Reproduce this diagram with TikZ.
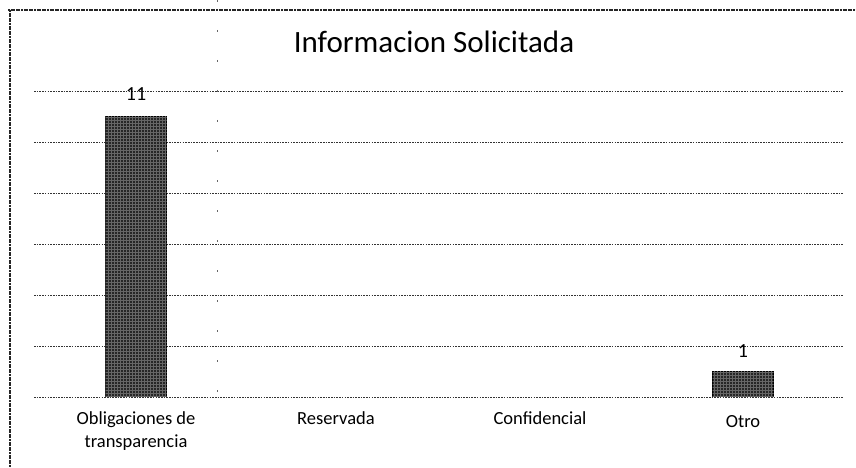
\documentclass[tikz,border=0pt]{standalone}
\usepackage{fontspec}
\setmainfont{Carlito}
\usetikzlibrary{patterns}
\tikzset{
  grid line/.style={draw=black!80, line width=0.9pt, dash pattern=on 1.6pt off 1.1pt},
  frame line/.style={draw=black!85, line width=1.1pt, dash pattern=on 2pt off 0.6pt},
  bar/.style={draw=black, line width=0.6pt, fill=black!85, anchor=south, inner sep=0pt, minimum width=61pt,
    postaction={pattern=grid, pattern color=black!60}},
  datalabel/.style={font=\fontsize{20}{22}\selectfont, anchor=base, inner sep=0pt},
  catlabel/.style={font=\fontsize{18.5}{23}\selectfont, align=center, anchor=base, inner sep=0pt},
  scanmark/.style={draw=black!60, line width=0.8pt, dash pattern=on 2pt off 28pt}
}
\begin{document}
\begin{tikzpicture}[x=1pt,y=-1pt]
\useasboundingbox (0,0) rectangle (856,468);
% frame
\coordinate (ftl) at (8,10);
\coordinate (ftr) at (856,10);
\coordinate (fbl) at (10,468);
\draw[frame line] (ftl) -- (ftr);
\draw[frame line] (10,10) -- (fbl);
% scan fold marks
\coordinate (s1) at (217,0);
\coordinate (s2) at (217,400);
\draw[scanmark] (s1) -- (s2);
% title
\node[font=\fontsize{31}{34}\selectfont, anchor=base, inner sep=0pt] (title) at (434,53) {Informacion Solicitada};
% gridlines
\foreach \k/\yy in {0/397,1/346,2/295,3/244,4/193,5/142,6/91}{
  \coordinate (gl\k) at (34,\yy);
  \coordinate (gr\k) at (843,\yy);
  \draw[grid line] (gl\k) -- (gr\k);
}
% bars
\node[bar, minimum height=280.5pt] (bar1) at (136,397) {};
\node[bar, minimum height=25.5pt] (bar4) at (743,397) {};
% data labels
\node[datalabel] (v1) at (136,101) {11};
\node[datalabel] (v4) at (743,357) {1};
% category labels
\node[catlabel] (c1) at (136,447) {Obligaciones de\\transparencia};
\node[catlabel] (c2) at (336,424) {Reservada};
\node[catlabel] (c3) at (540,424) {Confidencial};
\node[catlabel] (c4) at (743,427) {Otro};
\end{tikzpicture}
\end{document}
